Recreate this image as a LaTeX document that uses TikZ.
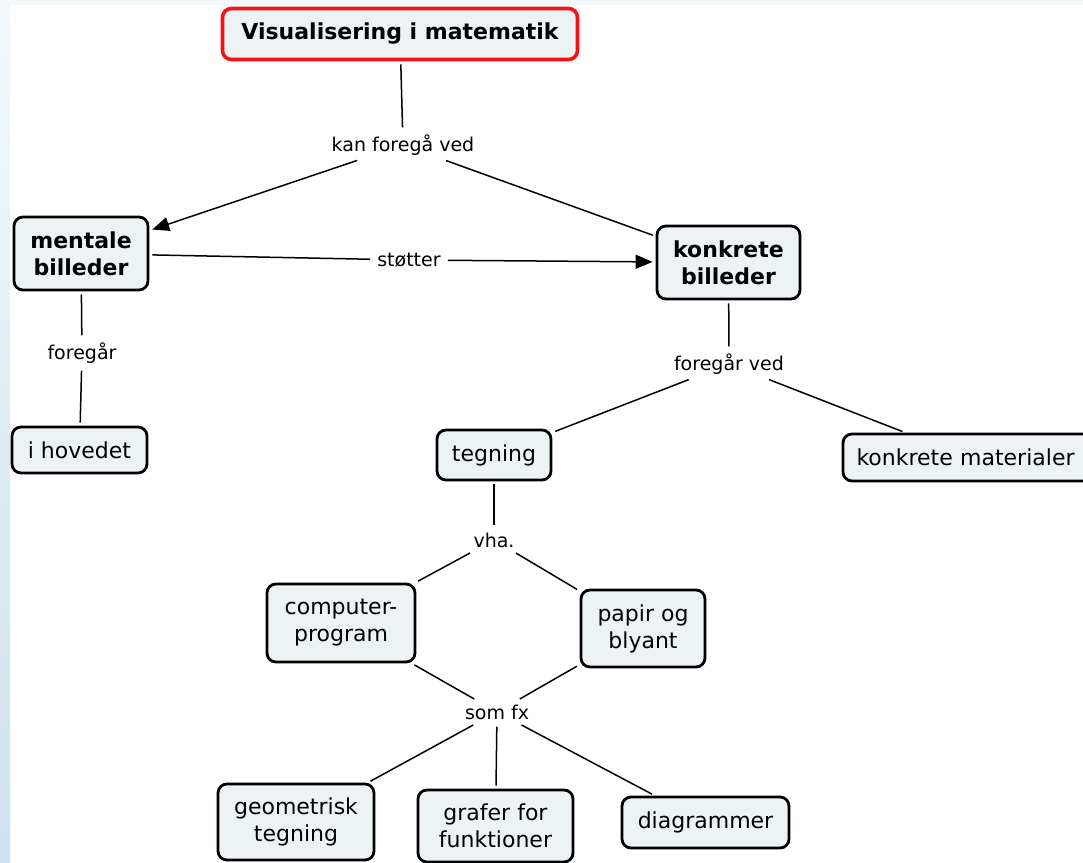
\documentclass[tikz,border=0pt]{standalone}
\usepackage{fontspec}
\setmainfont{DejaVu Sans}
\usetikzlibrary{arrows.meta}
\definecolor{boxfill}{HTML}{EDF3F5}
\definecolor{stripetop}{HTML}{F3F9FB}
\definecolor{stripebot}{HTML}{CCE2EA}
\definecolor{mainred}{HTML}{F01414}
\begin{document}
\begin{tikzpicture}[x=1pt,y=-1pt,
  concept/.style={draw=black,line width=2.8pt,rounded corners=9pt,fill=boxfill,
    align=center,inner sep=0pt,font=\fontsize{22}{27}\selectfont},
  boldconcept/.style={concept,font=\fontsize{22}{27}\selectfont\bfseries},
  linklabel/.style={fill=white,inner sep=4pt,align=center,font=\fontsize{19}{23}\selectfont},
  conn/.style={line width=1.5pt,shorten <=3pt,shorten >=3pt},
  arr/.style={conn,-{Triangle[length=17pt,width=14pt]}}]
\path[use as bounding box] (0,0) rectangle (1083,862);
\clip (0,0) rectangle (1083,862);
% background
\fill[white] (0,0) rectangle (1083,862);
\shade[top color=stripetop,bottom color=stripebot] (0,0) rectangle (10,862);
\fill[stripetop] (10,0) rectangle (1083,5);

% concepts
\node[boldconcept,draw=mainred,line width=3.6pt,minimum width=355pt,minimum height=51pt] (vis) at (400,34) {Visualisering i matematik};
\node[boldconcept,minimum width=134pt,minimum height=73pt] (mentale) at (81,253.5) {mentale\\billeder};
\node[boldconcept,minimum width=143pt,minimum height=73pt] (konkb) at (728.5,262.5) {konkrete\\billeder};
\node[concept,minimum width=135pt,minimum height=46pt] (hoved) at (79.5,450) {i hovedet};
\node[concept,minimum width=114pt,minimum height=50pt] (tegning) at (494,455) {tegning};
\node[concept,minimum width=252pt,minimum height=47pt,text width=225pt,inner xsep=13.5pt,align=left] (konkm) at (969,457.5) {konkrete materialer};
\node[concept,minimum width=148pt,minimum height=78pt] (comp) at (341,623) {computer-\\program};
\node[concept,minimum width=124pt,minimum height=77pt] (papir) at (643,628.5) {papir og\\blyant};
\node[concept,minimum width=156pt,minimum height=76pt] (geo) at (296,822) {geometrisk\\tegning};
\node[concept,minimum width=155pt,minimum height=72pt] (grafer) at (495.5,826) {grafer for\\funktioner};
\node[concept,minimum width=167pt,minimum height=51pt] (diag) at (705.5,822.5) {diagrammer};

% link labels
\node[linklabel] (l1) at (403,145) {kan foregå ved};
\node[linklabel] (l2) at (409,260) {støtter};
\node[linklabel] (l3) at (82,353) {foregår};
\node[linklabel] (l4) at (729,364) {foregår ved};
\node[linklabel] (l5) at (494,540) {vha.};
\node[linklabel] (l6) at (497,712) {som fx};

% connectors
\draw[conn] (vis) -- (l1);
\draw[arr] (l1) -- (mentale);
\draw[conn] (l1) -- (konkb);
\draw[conn] (mentale) -- (l2);
\draw[arr] (l2) -- (konkb);
\draw[conn] (mentale) -- (l3);
\draw[conn] (l3) -- (hoved);
\draw[conn] (konkb) -- (l4);
\draw[conn] (l4) -- (tegning);
\draw[conn] (l4) -- (konkm);
\draw[conn] (tegning) -- (l5);
\draw[conn] (l5) -- (comp);
\draw[conn] (l5) -- (papir);
\draw[conn] (comp) -- (l6);
\draw[conn] (papir) -- (l6);
\draw[conn] (l6) -- (geo);
\draw[conn] (l6) -- (grafer);
\draw[conn] (l6) -- (diag);
\end{tikzpicture}
\end{document}
